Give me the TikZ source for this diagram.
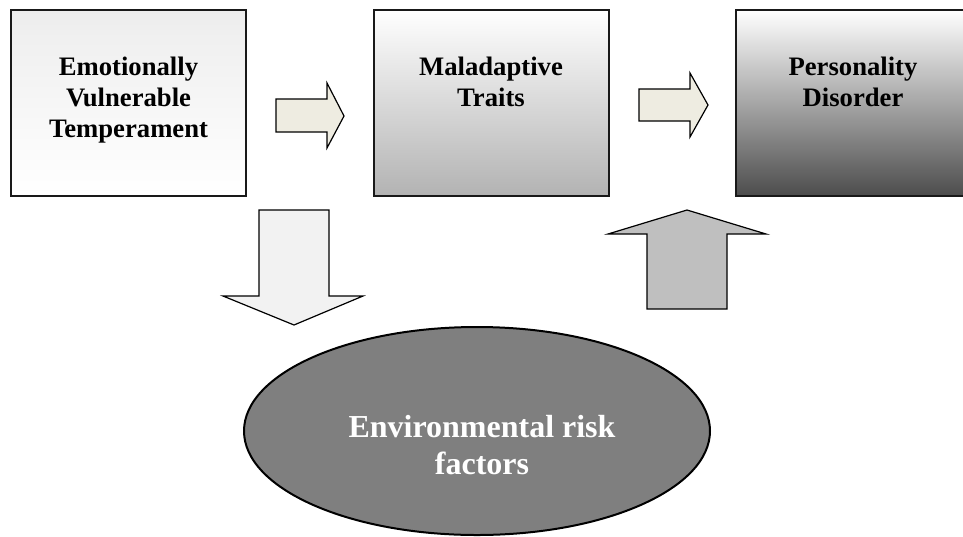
\documentclass[tikz,border=0pt]{standalone}
\usepackage{fontspec}
\setmainfont{Liberation Serif}
\usetikzlibrary{shapes.geometric}
\definecolor{beige}{HTML}{EEECE1}
\definecolor{lgray}{HTML}{F2F2F2}
\definecolor{mgray}{HTML}{BFBFBF}
\definecolor{dgray}{HTML}{7F7F7F}
\begin{document}
\begin{tikzpicture}[x=0.75pt,y=-0.75pt,
  box/.style={draw=black!90, line width=1.5pt, minimum width=176.25pt, minimum height=139.5pt, inner sep=0pt},
  lbl/.style={font=\bfseries\fontsize{20}{23.25}\selectfont, align=center, anchor=north, inner sep=0pt},
  barrow/.style={draw=black, line width=0.9pt, line join=miter}]
\useasboundingbox (0,0) rectangle (963,536);
\clip (0,0) rectangle (963,536);
% boxes
\node[box, top color=black!7, bottom color=white] (b1) at (128.5,103) {};
\node[box, top color=white, bottom color=black!30] (b2) at (491,103) {};
\node[box, top color=white, bottom color=black!70, minimum width=195pt] (b3) at (866,103) {};
\node[lbl] (t1) at (128.5,57) {Emotionally\\Vulnerable\\Temperament};
\node[lbl] (t2) at (491,57) {Maladaptive\\Traits};
\node[lbl] (t3) at (853,57) {Personality\\Disorder};
% ellipse
\node[ellipse, draw=black, line width=1.5pt, fill=dgray, minimum width=349.5pt, minimum height=156pt, inner sep=0pt] (env) at (477,431) {};
\node[font=\bfseries\fontsize{24}{27.75}\selectfont, text=white, align=center, anchor=north, inner sep=0pt] (envt) at (482,415) {Environmental risk\\factors};
% block arrows
\path[barrow, fill=beige] (276,99) -- (327,99) -- (327,83) -- (344,116) -- (327,148) -- (327,132) -- (276,132) -- cycle;
\path[barrow, fill=beige] (639,89) -- (690,89) -- (690,73) -- (708,105) -- (690,137) -- (690,121) -- (639,121) -- cycle;
\path[barrow, fill=lgray] (259,210) -- (329,210) -- (329,296) -- (363,296) -- (294,325) -- (223,296) -- (259,296) -- cycle;
\path[barrow, fill=mgray] (647,309) -- (727,309) -- (727,234) -- (766,234) -- (687,210) -- (608,234) -- (647,234) -- cycle;
\end{tikzpicture}
\end{document}
